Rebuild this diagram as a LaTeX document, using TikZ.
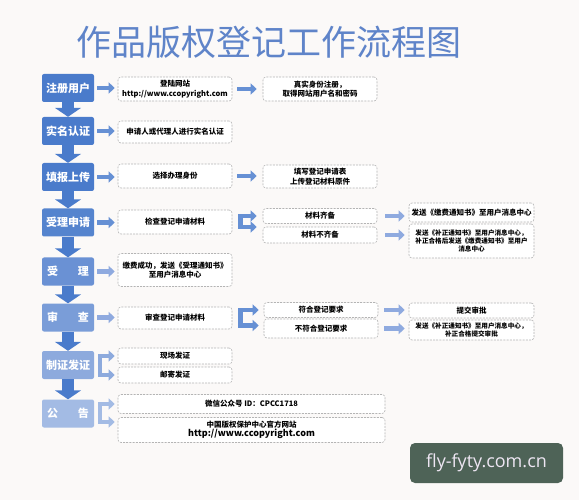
\documentclass[tikz,border=0pt]{standalone}
\usepackage{fontspec}
\setmainfont{Noto Sans CJK SC}
\newfontfamily\wmfont{Open Sans}
\usetikzlibrary{arrows.meta, calc}
\definecolor{cbg}{HTML}{FBF9F8}
\definecolor{ctitle}{HTML}{5F84C9}
\definecolor{cblue}{HTML}{4A7BCB}
\definecolor{cs4}{HTML}{5584CE}
\definecolor{cs5}{HTML}{6A91D4}
\definecolor{cs6}{HTML}{7A9DD8}
\definecolor{cs7}{HTML}{8DAADD}
\definecolor{cs8}{HTML}{A3BBE4}
\definecolor{carrow}{HTML}{6690D4}
\definecolor{clight}{HTML}{8FAADF}
\definecolor{cdash}{HTML}{B4B4B4}
\definecolor{cmark}{HTML}{4E6357}
\definecolor{cmarktext}{HTML}{EEE6F3}
\tikzset{
  stage/.style={fill=#1, text=white, rounded corners=2pt, minimum width=52pt, minimum height=28pt, inner sep=0pt, font=\fontsize{11}{13}\selectfont\bfseries},
  stage/.default=cblue,
  info/.style={draw=cdash, fill=white, dash pattern=on 2pt off 1.2pt, line width=0.6pt, rounded corners=3pt, align=center, inner sep=1pt, minimum width=#1, font=\fontsize{7.5}{9.5}\selectfont\bfseries},
  info/.default=114pt,
  small/.style={font=\fontsize{6.6}{8.3}\selectfont\bfseries},
  downarr/.style={-{Triangle[width=26pt,length=9pt]}, line width=12pt, draw=cblue},
  rarr/.style={-{Triangle[width=11pt,length=6pt]}, line width=4.5pt, draw=#1},
  rarr/.default=carrow,
  splitarr/.style={{Triangle[width=11pt,length=6pt]}-{Triangle[width=11pt,length=6pt]}, line width=4.5pt, draw=#1, line join=miter},
  splitarr/.default=carrow,
}

\begin{document}
\begin{tikzpicture}[x=1pt, y=-1pt]
  \fill[cbg] (0,0) rectangle (579,500);
  \node[font=\fontsize{35}{37}\selectfont, text=ctitle] (title) at (269,42) {作品版权登记工作流程图};

  % stages
  \node[stage]     (reg)    at (68,88)    {注册用户};
  \node[stage]     (real)   at (68,131)   {实名认证};
  \node[stage]     (fill)   at (68,177)   {填报上传};
  \node[stage=cs4] (apply)  at (68,222.5) {受理申请};
  \node[stage=cs5] (accept) at (68,271.5) {受\hspace{20pt}理};
  \node[stage=cs6] (review) at (68,317.5) {审\hspace{20pt}查};
  \node[stage=cs7] (cert)   at (68,365)   {制证发证};
  \node[stage=cs8] (notice) at (68,413.5) {公\hspace{20pt}告};
  \foreach \a/\b in {reg/real, real/fill, fill/apply, apply/accept, accept/review, review/cert, cert/notice}
    \draw[downarr] (\a.south) -- (\b.north);

  % first column
  \node[info, minimum height=24pt] (login)    at (175,89)  {登陆网站\\http://www.ccopyright.com};
  \node[info, minimum height=22pt] (realname) at (175,132) {申请人或代理人进行实名认证};
  \node[info, minimum height=24pt] (ident)    at (175,176) {选择办理身份};
  \node[info, minimum height=24pt] (check)    at (175,222) {检查登记申请材料};
  \node[info, minimum height=33pt] (paid)     at (175,270) {缴费成功，发送《受理通知书》\\至用户消息中心};
  \node[info, minimum height=22pt] (examine)  at (175,318) {审查登记申请材料};
  \node[info, minimum height=16pt] (onsite)   at (175,356) {现场发证};
  \node[info, minimum height=16pt] (mail)     at (175,375) {邮寄发证};
  \node[info=267pt, minimum height=19pt] (wechat) at (251.5,404) {微信公众号 ID：CPCC1718};
  \node[info=267pt, minimum height=25pt] (site)   at (251.5,430) {中国版权保护中心官方网站\\{\fontsize{9}{10}\selectfont http://www.ccopyright.com}};
  \draw[rarr, shorten <=3pt, shorten >=3pt] (reg.east) -- (reg.east -| login.west);
  \draw[rarr, shorten <=3pt, shorten >=3pt] (real.east) -- (real.east -| realname.west);
  \draw[rarr, shorten <=3pt, shorten >=3pt] (fill.east) -- (fill.east -| ident.west);
  \draw[rarr, shorten <=3pt, shorten >=3pt] (apply.east) -- (apply.east -| check.west);
  \draw[rarr=clight, shorten <=3pt, shorten >=3pt] (accept.east) -- (accept.east -| paid.west);
  \draw[rarr=clight, shorten <=3pt, shorten >=3pt] (review.east) -- (review.east -| examine.west);
  \draw[splitarr=cs7, shorten <=3pt, shorten >=3pt] (onsite.west) -| ($(cert.east)+(6,0)$) |- (mail.west);
  \draw[splitarr=cs8, shorten <=3pt, shorten >=3pt] (wechat.west) -| ($(notice.east)+(6,0)$) |- ($(site.west)+(0,-8)$);

  % second column
  \node[info, minimum height=24pt] (account) at (320,89)    {真实身份注册，\\取得网站用户名和密码};
  \node[info, minimum height=23pt] (form)    at (320,176.5) {填写登记申请表\\上传登记材料原件};
  \node[info, minimum height=15pt] (ready)   at (320,216)   {材料齐备};
  \node[info, minimum height=16pt] (lack)    at (320,235)   {材料不齐备};
  \node[info, minimum height=15pt] (meets)   at (321,310)   {符合登记要求};
  \node[info, minimum height=19pt] (fails)   at (321,328.5) {不符合登记要求};
  \draw[rarr, shorten <=5pt, shorten >=6pt] (login.east) -- (login.east -| account.west);
  \draw[rarr, shorten <=5pt, shorten >=6pt] (ident.east) -- (ident.east -| form.west);
  \draw[splitarr, shorten <=6pt, shorten >=6pt] (ready.west) -| ($(check.east)+(8,0)$) |- ($(lack.west)+(0,-8)$);
  \draw[splitarr, shorten <=5pt, shorten >=5pt] (meets.west) -| ($(examine.east)+(8,0)$) |- ($(fails.west)+(0,-3)$);

  % third column
  \node[info=125pt, minimum height=19pt] (payslip)  at (471.5,212.5) {发送《缴费通知书》至用户消息中心};
  \node[info=125pt, minimum height=34pt, small] (correct)  at (471.5,241) {发送《补正通知书》至用户消息中心，\\补正合格后发送《缴费通知书》至用户\\消息中心};
  \node[info=125pt, minimum height=15pt] (submit)   at (471.5,310.5) {提交审批};
  \node[info=125pt, minimum height=20pt, small] (recorrect) at (471.5,330) {发送《补正通知书》至用户消息中心，\\补正合格提交审批};
  \draw[rarr=clight, shorten <=8pt, shorten >=4pt] (ready.east) -- (ready.east -| payslip.west);
  \draw[rarr=clight, shorten <=8pt, shorten >=4pt] (lack.east) -- (lack.east -| correct.west);
  \draw[rarr=clight, shorten <=6pt, shorten >=4pt] (meets.east) -- (meets.east -| submit.west);
  \draw[rarr=clight, shorten <=6pt, shorten >=4pt] (fails.east) -- (fails.east -| recorrect.west);

  \node[fill=cmark, rounded corners=5pt, minimum width=153pt, minimum height=40pt, text=cmarktext, font=\wmfont\fontsize{18}{20}\selectfont] (mark) at (486.5,463) {fly-fyty.com.cn};
\end{tikzpicture}
\end{document}
